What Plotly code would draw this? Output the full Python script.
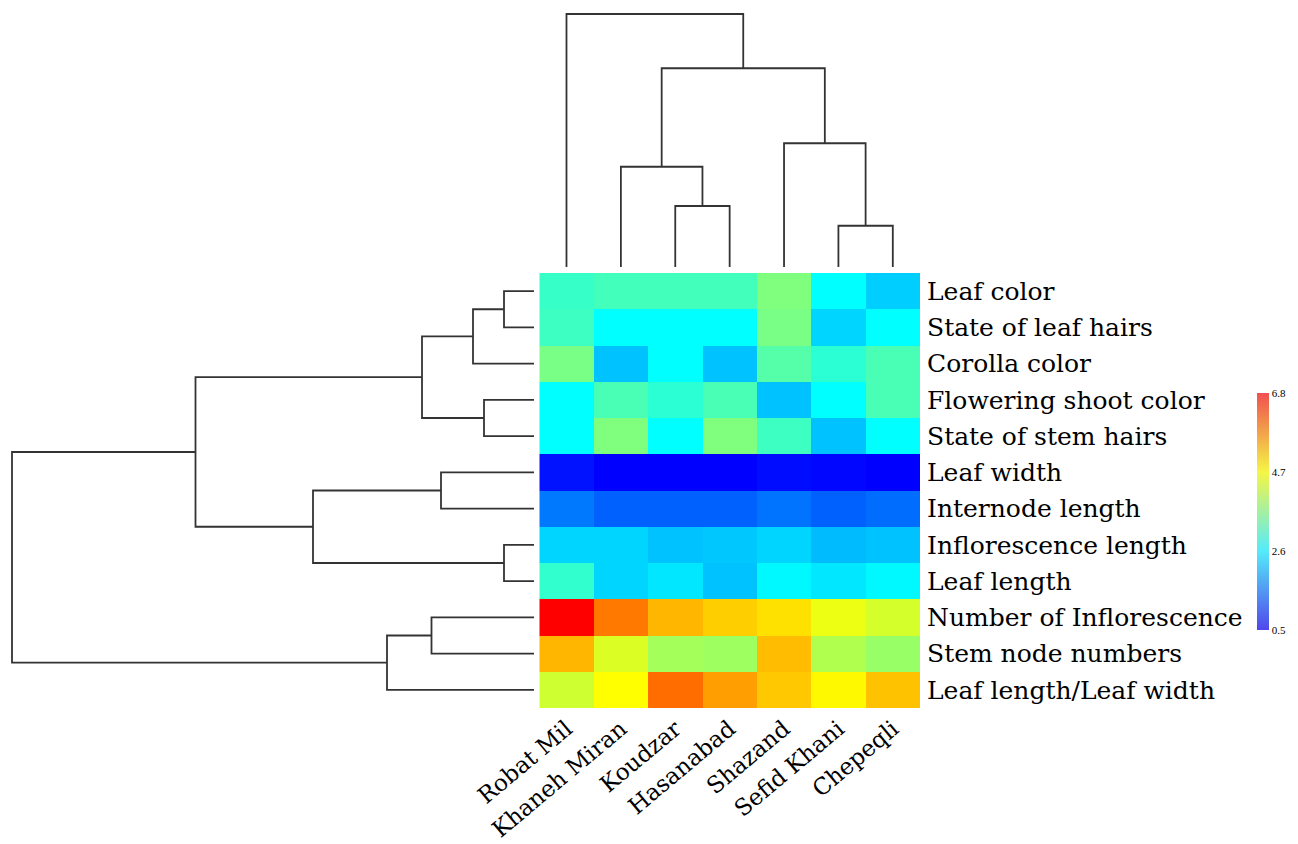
import plotly.graph_objects as go

# ---------------- data ----------------
columns = ["Robat Mil", "Khaneh Miran", "Koudzar", "Hasanabad", "Shazand", "Sefid Khani", "Chepeqli"]
rows = ["Leaf color", "State of leaf hairs", "Corolla color", "Flowering shoot color",
        "State of stem hairs", "Leaf width", "Internode length", "Inflorescence length",
        "Leaf length", "Number of Inflorescence", "Stem node numbers", "Leaf length/Leaf width"]

values = [
    [3.05, 3.15, 3.15, 3.15, 3.65, 2.60, 2.20],
    [3.10, 2.60, 2.60, 2.60, 3.60, 2.25, 2.60],
    [3.60, 2.10, 2.60, 2.10, 3.30, 2.95, 3.20],
    [2.60, 3.20, 2.95, 3.20, 2.10, 2.60, 3.20],
    [2.60, 3.65, 2.60, 3.65, 3.10, 2.10, 2.60],
    [0.65, 0.50, 0.50, 0.50, 0.60, 0.55, 0.50],
    [1.50, 1.30, 1.30, 1.30, 1.45, 1.30, 1.40],
    [2.25, 2.25, 2.10, 2.15, 2.25, 2.05, 2.10],
    [3.00, 2.25, 2.40, 2.10, 2.55, 2.40, 2.55],
    [6.80, 5.80, 5.30, 5.10, 4.95, 4.55, 4.35],
    [5.30, 4.40, 3.95, 3.90, 5.25, 4.05, 3.85],
    [4.30, 4.70, 5.90, 5.50, 5.15, 4.75, 5.20],
]

# linkage (child a, child b, merge height); ids >= n are earlier merges
col_links = [
    (2, 3, 2.44),
    (1, 7, 4.01),
    (5, 6, 1.65),
    (4, 9, 4.95),
    (8, 10, 7.95),
    (0, 11, 10.12),
]
row_links = [
    (0, 1, 0.60),
    (12, 2, 1.22),
    (3, 4, 1.00),
    (13, 14, 2.24),
    (5, 6, 1.86),
    (7, 8, 0.60),
    (16, 17, 4.42),
    (15, 18, 6.77),
    (9, 10, 2.05),
    (20, 11, 2.94),
    (19, 21, 10.44),
]

cbar_ticks = [0.5, 2.6, 4.7, 6.8]

# ---------------- helpers ----------------
def dendro_segments(links, n):
    pos = {i: float(i) for i in range(n)}
    hgt = {i: 0.0 for i in range(n)}
    ps, hs = [], []
    for k, (a, b, h) in enumerate(links):
        ps += [pos[a], pos[a], pos[b], pos[b], None]
        hs += [hgt[a], h, h, hgt[b], None]
        pos[n + k] = (pos[a] + pos[b]) / 2
        hgt[n + k] = h
    return ps, hs

W, H = 1298, 844
hx0, hx1 = 539.3 / W, 920.0 / W
hy0, hy1 = (H - 708.0) / H, (H - 273.0) / H

jet = [[0.0, "rgb(0,0,255)"], [1 / 3, "rgb(0,255,255)"],
       [2 / 3, "rgb(255,255,0)"], [1.0, "rgb(255,0,0)"]]
jet_light = [[0.0, "rgb(80,70,235)"], [1 / 3, "rgb(85,235,250)"],
             [2 / 3, "rgb(245,245,70)"], [1.0, "rgb(240,80,80)"]]

row_font = dict(family="DejaVu Serif", size=25, color="black")
col_font = dict(family="DejaVu Serif", size=23, color="black")
line_style = dict(color="#333333", width=1.8)

fig = go.Figure()

fig.add_trace(go.Heatmap(
    z=values, x=list(range(len(columns))), y=list(range(len(rows))),
    colorscale=jet, zmin=0.5, zmax=6.8, xgap=0, ygap=0,
    showscale=False, hoverinfo="skip",
))

# colour bar (lighter rendering, as in the reference)
fig.add_trace(go.Scatter(
    x=[None], y=[None], mode="markers", showlegend=False, hoverinfo="skip",
    marker=dict(
        color=[cbar_ticks[0]], cmin=cbar_ticks[0], cmax=cbar_ticks[-1],
        colorscale=jet_light, showscale=True, size=0,
        colorbar=dict(
            x=1256.5 / W, xanchor="left", xpad=0,
            y=(H - 392.7) / H, yanchor="top", ypad=0,
            lenmode="pixels", len=236.6, thickness=12,
            outlinewidth=0, tickvals=cbar_ticks, ticks="",
            tickfont=dict(family="Liberation Serif", size=11, color="black"),
        ),
    ),
))

cx, cy = dendro_segments(col_links, len(columns))
fig.add_trace(go.Scatter(x=cx, y=cy, mode="lines", line=line_style,
                         xaxis="x3", yaxis="y3", showlegend=False, hoverinfo="skip"))

ry, rx = dendro_segments(row_links, len(rows))
fig.add_trace(go.Scatter(x=rx, y=ry, mode="lines", line=line_style,
                         xaxis="x2", yaxis="y2", showlegend=False, hoverinfo="skip"))

hidden = dict(showgrid=False, zeroline=False, showticklabels=False, ticks="",
              showline=False, automargin=False)

fig.update_layout(
    width=W, height=H, autosize=False,
    margin=dict(l=0, r=0, t=0, b=0),
    paper_bgcolor="white", plot_bgcolor="white",
    showlegend=False,
    xaxis=dict(domain=[hx0, hx1], range=[-0.5, len(columns) - 0.5],
               tickvals=list(range(len(columns))), ticktext=columns,
               tickangle=-40, tickfont=col_font, ticks="", showgrid=False,
               zeroline=False, showline=False, automargin=False,
               ticklabelstandoff=2),
    yaxis=dict(domain=[hy0, hy1], range=[len(rows) - 0.5, -0.5], side="right",
               tickvals=list(range(len(rows))), ticktext=rows,
               tickfont=row_font, ticks="", showgrid=False,
               zeroline=False, showline=False, automargin=False,
               ticklabelstandoff=6),
    xaxis2=dict(domain=[0, hx0], range=[10.68, -0.106], anchor="y2", **hidden),
    yaxis2=dict(domain=[hy0, hy1], range=[len(rows) - 0.5, -0.5], anchor="x2", **hidden),
    xaxis3=dict(domain=[hx0, hx1], range=[-0.5, len(columns) - 0.5], anchor="y3", **hidden),
    yaxis3=dict(domain=[hy1, 1.0], range=[-0.24, 10.68], anchor="x3", **hidden),
)

fig.write_html("out.html", config={"displayModeBar": False},
               post_script="document.body.style.margin='0px';document.body.style.overflow='hidden';")
